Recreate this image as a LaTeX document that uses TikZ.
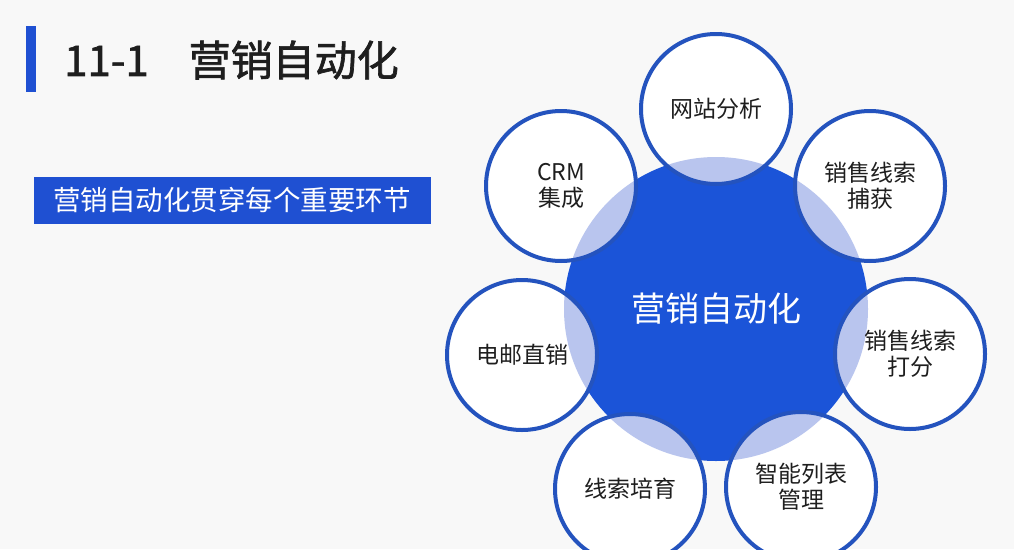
\documentclass[tikz,border=0pt]{standalone}
\usepackage{fontspec}
\setmainfont{Noto Sans CJK SC}
\newfontfamily\headfont[FakeBold=1.6]{Noto Sans CJK SC}

\definecolor{hubblue}{HTML}{1B54D8}
\definecolor{ringblue}{HTML}{2453BE}
\definecolor{lensblue}{HTML}{B9C5EE}
\definecolor{barblue}{HTML}{1F50D2}
\definecolor{pagebg}{HTML}{F8F8F8}
\definecolor{ink}{HTML}{1E1E1E}

\begin{document}
\begin{tikzpicture}[
  x=1pt, y=-1pt,
  hub/.style={circle, fill=hubblue, minimum size=304pt, inner sep=0pt,
    text=white, font=\fontsize{34}{40}\selectfont},
  petal/.style={circle, draw=ringblue, line width=4pt, fill=white,
    minimum size=150pt, inner sep=0pt, align=center, text=ink,
    font=\fontsize{23}{26}\selectfont,
    path picture={\fill[lensblue] (hub.center) circle [radius=152pt];}},
  banner/.style={fill=barblue, minimum width=397pt, minimum height=47pt,
    inner sep=0pt, text=white, font=\fontsize{27.5}{32}\selectfont}
]
\useasboundingbox (0,0) rectangle (1014,549);
\fill[pagebg] (0,0) rectangle (1014,549);

% title
\node[fill=barblue, minimum width=10pt, minimum height=66pt, inner sep=0pt] (titlebar) at (31,59) {};
\node[anchor=west, inner sep=0pt, text=ink, font=\fontsize{42}{46}\headfont] (title) at (64,60) {11-1\hspace{40pt}营销自动化};
\node[banner] (tagline) at (232,200) {营销自动化贯穿每个重要环节};

% hub and petals
\node[hub] (hub) at (716,309) {营销自动化};
\node[petal] (web)   at (716,109) {网站分析};
\node[petal] (grab)  at (870,186) {销售线索\\捕获};
\node[petal] (score) at (910,354) {销售线索\\打分};
\node[petal] (list)  at (801,487) {智能列表\\管理};
\node[petal] (nurse) at (630,489) {线索培育};
\node[petal] (mail)  at (522,355) {电邮直销};
\node[petal] (crm)   at (561,186) {CRM\\集成};
\end{tikzpicture}
\end{document}
